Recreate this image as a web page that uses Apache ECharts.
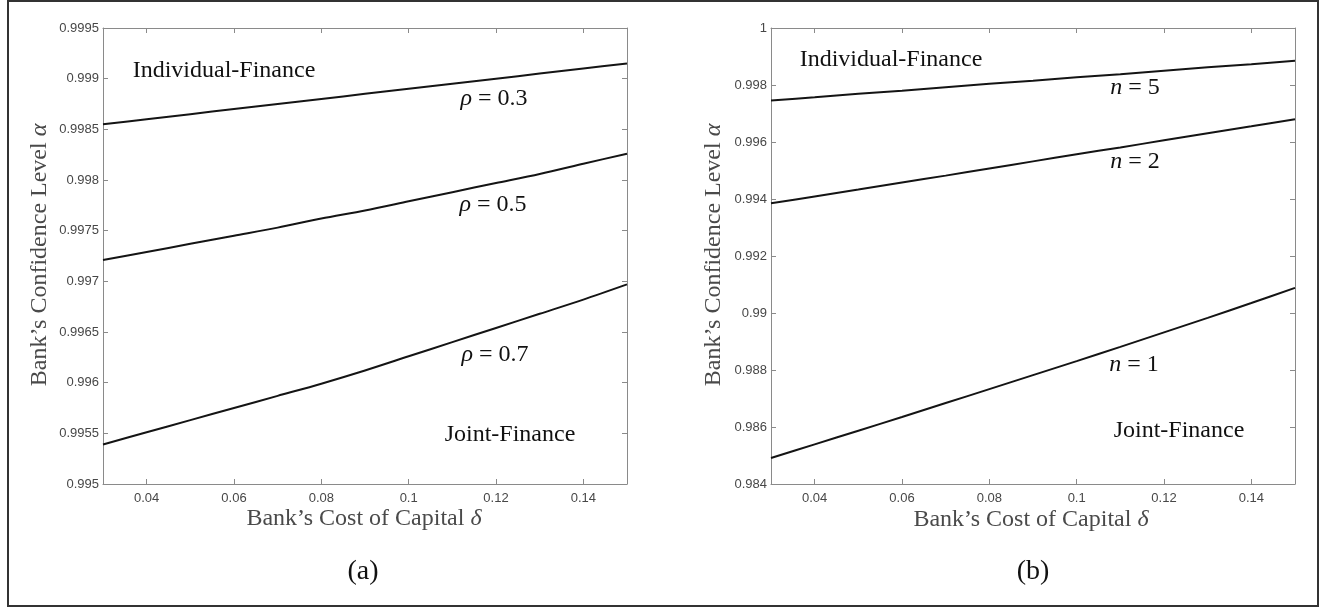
<!DOCTYPE html>
<html lang="en">
<head>
    <meta charset="UTF-8">
    <title>Bank's Confidence Level</title>
    <style>
        html,body{
            margin: 0px;
            background: #fff;
        }
        #main{
            width: 1322px;
            height: 609px;
        }
    </style>
    <script src="https://cdn.jsdelivr.net/npm/echarts@6/dist/echarts.min.js"></script>
</head>
<body>
<div id="main"></div>
<script>
    // cost of capital (x) and the curves
    var delta = [0.03, 0.04, 0.05, 0.06, 0.07, 0.08, 0.09, 0.10, 0.11, 0.12, 0.13, 0.14, 0.15];
    var rho03 = [0.99855, 0.99860, 0.99865, 0.99870, 0.99875, 0.99880, 0.99885, 0.99890, 0.99895, 0.99900, 0.99905, 0.99910, 0.99915];
    var rho05 = [0.99721, 0.99729, 0.99737, 0.99745, 0.99753, 0.99762, 0.99770, 0.99779, 0.99788, 0.99797, 0.99806, 0.99816, 0.99826];
    var rho07 = [0.99539, 0.99551, 0.99563, 0.99575, 0.99587, 0.99599, 0.99612, 0.99626, 0.99640, 0.99654, 0.99668, 0.99682, 0.99697];
    var n5 = [0.99746, 0.99757, 0.99769, 0.99780, 0.99792, 0.99804, 0.99815, 0.99827, 0.99838, 0.99850, 0.99862, 0.99873, 0.99885];
    var n2 = [0.99385, 0.99409, 0.99433, 0.99458, 0.99482, 0.99507, 0.99532, 0.99557, 0.99581, 0.99606, 0.99631, 0.99655, 0.99680];
    var n1 = [0.98491, 0.98539, 0.98587, 0.98635, 0.98684, 0.98733, 0.98782, 0.98831, 0.98881, 0.98932, 0.98983, 0.99035, 0.99088];

    var xTicks = [0.04, 0.06, 0.08, 0.1, 0.12, 0.14];
    var yTicksA = [0.995, 0.9955, 0.996, 0.9965, 0.997, 0.9975, 0.998, 0.9985, 0.999, 0.9995];
    var yTicksB = [0.984, 0.986, 0.988, 0.99, 0.992, 0.994, 0.996, 0.998, 1];

    function pairs(xs, ys) {
        return xs.map(function (x, i) { return [x, ys[i]]; });
    }

    var axisGray = '#8a8a8a';
    var tickFont = {fontFamily: 'Liberation Sans', fontSize: 13, color: '#474747'};
    var serif = 'Liberation Serif';

    function xAxis(grid, pos) {
        return {
            type: 'value', gridIndex: grid, position: pos, min: 0.03, max: 0.15,
            axisLine: {onZero: false, lineStyle: {color: axisGray, width: 1}},
            axisTick: {inside: true, length: 5, customValues: xTicks, lineStyle: {color: axisGray}},
            axisLabel: pos === 'bottom' ? Object.assign({customValues: xTicks, margin: 8,
                formatter: function (v) { return String(+v.toFixed(4)); }}, tickFont) : {show: false},
            splitLine: {show: false}
        };
    }
    function yAxis(grid, pos, lo, hi, ticks) {
        return {
            type: 'value', gridIndex: grid, position: pos, min: lo, max: hi,
            axisLine: {onZero: false, lineStyle: {color: axisGray, width: 1}},
            axisTick: {inside: true, length: 5, customValues: ticks, lineStyle: {color: axisGray}},
            axisLabel: pos === 'left' ? Object.assign({customValues: ticks, margin: 4,
                formatter: function (v) { return String(+v.toFixed(6)); }}, tickFont) : {show: false},
            splitLine: {show: false}
        };
    }
    function curve(data, g) {
        return {
            type: 'line', xAxisIndex: g, yAxisIndex: g, data: data,
            showSymbol: false, symbol: 'none', silent: true, smooth: 0.3,
            lineStyle: {color: '#141414', width: 2}
        };
    }
    function label(text, x, y, size, color, rot) {
        return {
            type: 'text', x: x, y: y, rotation: rot || 0, silent: true,
            style: {
                text: text, align: 'center', verticalAlign: 'middle',
                fontFamily: serif, fontSize: size, fill: color || '#111',
                rich: {i: {fontFamily: serif, fontStyle: 'italic', fontSize: size, fill: color || '#111'}}
            }
        };
    }

    var chart = echarts.init(document.getElementById('main'));
    var option = {
        animation: false,
        backgroundColor: '#fff',
        grid: [
            {left: 103, top: 28, width: 524, height: 456},
            {left: 771, top: 28, width: 524, height: 456}
        ],
        xAxis: [xAxis(0, 'bottom'), xAxis(1, 'bottom'), xAxis(0, 'top'), xAxis(1, 'top')],
        yAxis: [
            yAxis(0, 'left', 0.995, 0.9995, yTicksA), yAxis(1, 'left', 0.984, 1, yTicksB),
            yAxis(0, 'right', 0.995, 0.9995, yTicksA), yAxis(1, 'right', 0.984, 1, yTicksB)
        ],
        series: [
            curve(pairs(delta, rho03), 0), curve(pairs(delta, rho05), 0), curve(pairs(delta, rho07), 0),
            curve(pairs(delta, n5), 1), curve(pairs(delta, n2), 1), curve(pairs(delta, n1), 1)
        ],
        graphic: [
            {type: 'rect', shape: {x: 8, y: 1, width: 1310, height: 605}, silent: true,
                style: {fill: 'none', stroke: '#333', lineWidth: 2}},
            // panel (a)
            label('Individual-Finance', 224, 71, 24),
            label('{i|ρ} = 0.3', 494, 99, 24),
            label('{i|ρ} = 0.5', 493, 205, 24),
            label('{i|ρ} = 0.7', 495, 355, 24),
            label('Joint-Finance', 510, 435, 24),
            label('Bank’s Cost of Capital {i|δ}', 364, 519, 24, '#4a4a4a'),
            label('Bank’s Confidence Level {i|α}', 40, 255, 24, '#4a4a4a', Math.PI / 2),
            label('(a)', 363, 572, 28),
            // panel (b)
            label('Individual-Finance', 891, 60, 24),
            label('{i|n} = 5', 1135, 88, 24),
            label('{i|n} = 2', 1135, 162, 24),
            label('{i|n} = 1', 1134, 365, 24),
            label('Joint-Finance', 1179, 431, 24),
            label('Bank’s Cost of Capital {i|δ}', 1031, 520, 24, '#4a4a4a'),
            label('Bank’s Confidence Level {i|α}', 714, 255, 24, '#4a4a4a', Math.PI / 2),
            label('(b)', 1033, 572, 28)
        ]
    };
    chart.setOption(option);
</script>
</body>
</html>
